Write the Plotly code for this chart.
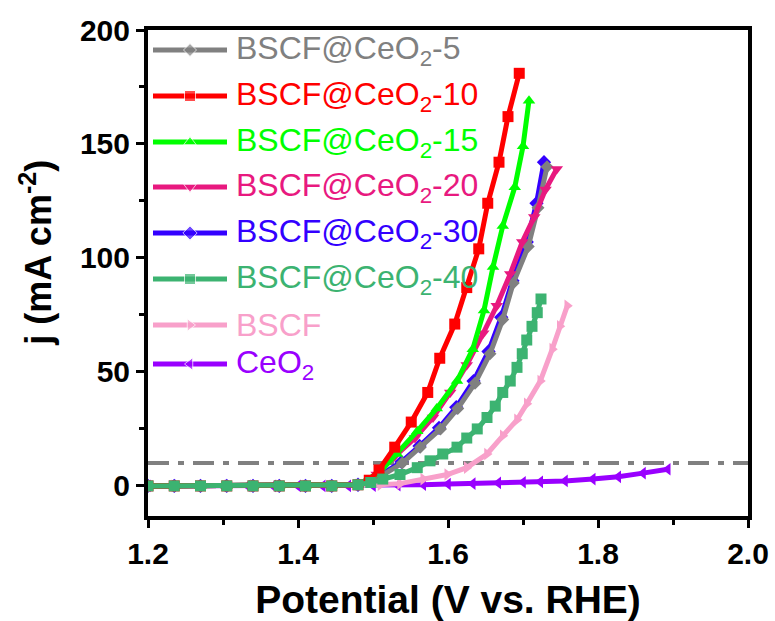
import plotly.graph_objects as go

# ---------------- data ----------------
flat_x = [1.200, 1.235, 1.270, 1.305, 1.340, 1.375, 1.410, 1.445, 1.480]
flat_y = [0, 0, 0, 0, 0, 0, 0, 0, 0.5]

x_ceo2_5 = flat_x + [1.509, 1.539, 1.563, 1.590, 1.613, 1.636, 1.656, 1.673, 1.687, 1.707, 1.720, 1.732]
y_ceo2_5 = flat_y + [4, 10, 17, 25, 34, 45, 58, 73, 89, 105, 122, 140]

x_ceo2_10 = flat_x + [1.495, 1.508, 1.529, 1.551, 1.573, 1.589, 1.609, 1.625, 1.641, 1.653, 1.668, 1.680, 1.695]
y_ceo2_10 = flat_y + [2.5, 7, 17, 28, 41, 56, 71, 87, 104, 124, 142, 162, 181]

x_ceo2_15 = flat_x + [1.509, 1.532, 1.559, 1.585, 1.612, 1.633, 1.648, 1.660, 1.673, 1.689, 1.700, 1.708]
y_ceo2_15 = flat_y + [6, 14, 24, 34, 46, 60, 77, 96, 114, 131, 149, 169]

x_ceo2_20 = flat_x + [1.505, 1.529, 1.556, 1.580, 1.603, 1.625, 1.647, 1.665, 1.683, 1.699, 1.715, 1.730, 1.745]
y_ceo2_20 = flat_y + [5, 13, 21, 30, 41, 53, 67, 79, 93, 107, 118, 130, 139]

x_ceo2_30 = flat_x + [1.509, 1.538, 1.562, 1.588, 1.611, 1.634, 1.654, 1.671, 1.686, 1.705, 1.718, 1.728]
y_ceo2_30 = flat_y + [4.5, 10.5, 17.5, 25.5, 34.5, 46, 59, 74, 90, 107, 124, 142]

x_ceo2_40 = flat_x + [1.497, 1.513, 1.536, 1.559, 1.576, 1.593, 1.612, 1.625, 1.639, 1.652, 1.663,
                      1.673, 1.683, 1.692, 1.699, 1.705, 1.712, 1.719, 1.724]
y_ceo2_40 = flat_y + [1.5, 3, 5, 8, 11, 14, 17, 21, 25, 30, 35, 41, 46, 52, 58, 64, 70, 76, 82]

x_bscf = flat_x + [1.510, 1.536, 1.567, 1.599, 1.625, 1.652, 1.673, 1.692, 1.705, 1.723, 1.739, 1.749, 1.759]
y_bscf = flat_y + [0.5, 1, 3, 5, 8, 14, 22, 29, 36, 46, 60, 70, 79]

x_ceo2 = [1.200, 1.233, 1.267, 1.300, 1.333, 1.367, 1.400, 1.433, 1.467, 1.500, 1.533, 1.567,
          1.600, 1.633, 1.667, 1.700, 1.723, 1.756, 1.793, 1.827, 1.860, 1.893]
y_ceo2 = [0, 0, 0, 0, 0, 0, 0, 0, 0, 0.1, 0.3, 0.5, 0.8, 1.0, 1.3, 1.6, 1.8, 2.2, 3.0, 4.0, 5.6, 7.3]

threshold_j = 10

names = ["BSCF@CeO<sub>2</sub>-5", "BSCF@CeO<sub>2</sub>-10", "BSCF@CeO<sub>2</sub>-15",
         "BSCF@CeO<sub>2</sub>-20", "BSCF@CeO<sub>2</sub>-30", "BSCF@CeO<sub>2</sub>-40",
         "BSCF", "CeO<sub>2</sub>"]
xs = [x_ceo2_5, x_ceo2_10, x_ceo2_15, x_ceo2_20, x_ceo2_30, x_ceo2_40, x_bscf, x_ceo2]
ys = [y_ceo2_5, y_ceo2_10, y_ceo2_15, y_ceo2_20, y_ceo2_30, y_ceo2_40, y_bscf, y_ceo2]

x_ticks = [1.2, 1.4, 1.6, 1.8, 2.0]
y_ticks = [0, 50, 100, 150, 200]

# ---------------- styles ----------------
colors = ["#808080", "#FF0000", "#00FF00", "#E8197F", "#3300FF", "#3CB371", "#F8A0CA", "#9900FF"]
symbols = ["diamond", "square", "triangle-up", "triangle-down", "diamond", "square",
           "triangle-right", "triangle-left"]
msizes = [10, 11, 11, 11, 11, 11, 11, 11]
draw_order = [7, 6, 4, 0, 3, 2, 1, 5]

FONT = "Liberation Sans, Arial, sans-serif"

fig = go.Figure()
for i in draw_order:
    fig.add_trace(go.Scatter(
        x=xs[i], y=ys[i], mode="lines+markers", name=names[i],
        line=dict(color=colors[i], width=5),
        marker=dict(symbol=symbols[i], size=msizes[i], color=colors[i]),
        showlegend=False, xaxis="x", yaxis="y"))

# threshold dash-dot line
fig.add_shape(type="line", xref="paper", x0=0, x1=1, yref="y", y0=threshold_j, y1=threshold_j,
              line=dict(color="#808080", width=4, dash="21px,9px,6px,9px"), layer="below")

# custom legend on a pixel-space overlay axis
leg_rows = [50, 96, 142, 187, 233, 279, 325, 364]
for i, ry in enumerate(leg_rows):
    fig.add_trace(go.Scatter(
        x=[153, 190, 227], y=[ry, ry, ry], mode="lines+markers",
        line=dict(color=colors[i], width=5),
        marker=dict(symbol=symbols[i], size=[0, msizes[i], 0], color=colors[i]),
        showlegend=False, hoverinfo="skip", xaxis="x2", yaxis="y2"))
    fig.add_annotation(x=234, y=ry, xref="x2", yref="y2", text=names[i], showarrow=False,
                       xanchor="left", yanchor="middle", yshift=0,
                       font=dict(family=FONT, size=32, color=colors[i]))

# y-axis title as an annotation (positioned like the reference)
fig.add_annotation(x=-0.187, xref="paper", y=253, yref="y2", text="j (mA cm<sup>-2</sup>)",
                   textangle=-90, showarrow=False, xanchor="center", yanchor="middle",
                   font=dict(family=FONT, size=36, color="black", weight="bold"))

axis_common = dict(showline=True, linewidth=4, linecolor="black", mirror=True,
                   ticks="outside", ticklen=8, tickwidth=3, tickcolor="black",
                   showgrid=False, zeroline=False, automargin=False,
                   tickfont=dict(family=FONT, size=30, color="black", weight="bold"))

fig.update_layout(
    width=775, height=621,
    margin=dict(l=148, r=27, t=30, b=105),
    paper_bgcolor="white", plot_bgcolor="white",
    showlegend=False,
    xaxis=dict(range=[1.2, 2.0], tickvals=x_ticks, ticktext=[f"{v:.1f}" for v in x_ticks],
               minor=dict(dtick=0.1, tick0=1.2, ticks="outside", ticklen=5, tickwidth=3, tickcolor="black"),
               title=dict(text="Potential (V vs. RHE)", standoff=24,
                          font=dict(family=FONT, size=39, color="black", weight="bold")),
               **axis_common),
    yaxis=dict(range=[-13.2, 200], tickvals=y_ticks,
               minor=dict(dtick=25, tick0=0, ticks="outside", ticklen=5, tickwidth=3, tickcolor="black"),
               **axis_common),
    xaxis2=dict(overlaying="x", anchor="y2", range=[148, 748], visible=False, fixedrange=True),
    yaxis2=dict(overlaying="y", anchor="x2", range=[516, 30], visible=False, fixedrange=True),
)

fig.write_html("out.html")
